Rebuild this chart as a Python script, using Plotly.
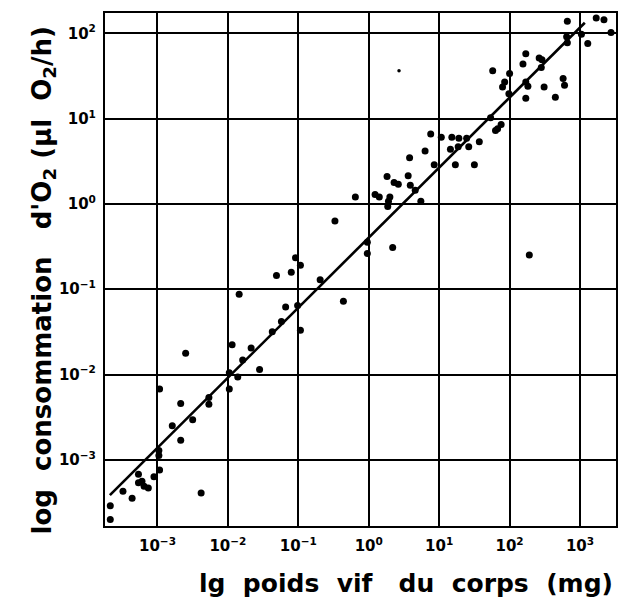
import numpy as np
import plotly.graph_objects as go

# Body mass (mg) and O2 consumption (µl O2/h), stored as decimal logarithms
log_poids = [
    2.82, 3.23, 3.34, 3.44, 2.81, 2.82, 3.02, 3.11,
    2.23, 2.19, 2.42, 2.46, 2.45, 1.76, 2.00, 1.93, 1.90, 2.23, 2.26, 2.49,
    2.76, 2.78, 2.65, 2.23, 1.99, 1.73, 1.88, 1.83, 1.80,
    0.88, 1.03, 1.18, 1.28, 1.39, 1.57, 1.42, 1.27, 1.16, 0.80, 0.58,
    0.93, 1.23, 1.50, 0.26, 0.36, 0.42, 0.56, 0.59, 0.66,
    -0.19, 0.09, 0.15, 0.30, 0.28, 0.27, 0.74, -0.48,
    -1.04, -0.97, -1.10, -1.31, -0.69, -1.84, -0.36, -1.18, -1.01,
    -1.24, -1.37, -0.97, -1.94, -1.67, -2.60, -1.79, -1.55, -1.98, -1.86,
    -2.97, -1.98, -2.27, -2.27, -2.67, -2.50, -2.79, -2.67,
    -2.98, -2.98, -2.97, -3.05, -3.27, -3.27, -3.22, -3.19, -3.13,
    -3.49, -3.36, -2.38, -3.67, -3.67,
    -0.02, -0.02, 0.34, 2.28,
]
log_conso = [
    2.14, 2.18, 2.16, 2.01, 1.96, 1.89, 1.99, 1.88,
    1.76, 1.64, 1.71, 1.69, 1.60, 1.56, 1.53, 1.43, 1.37, 1.43, 1.38, 1.37,
    1.47, 1.39, 1.25, 1.24, 1.29, 1.01, 0.93, 0.88, 0.86,
    0.82, 0.78, 0.78, 0.77, 0.77, 0.73, 0.67, 0.67, 0.64, 0.62, 0.54,
    0.46, 0.46, 0.46, 0.32, 0.25, 0.23, 0.33, 0.22, 0.16,
    0.08, 0.11, 0.08, 0.08, 0.03, -0.03, 0.03, -0.20,
    -0.63, -0.72, -0.80, -0.84, -0.89, -1.06, -1.14, -1.21, -1.19,
    -1.38, -1.50, -1.48, -1.65, -1.69, -1.75, -1.83, -1.94, -1.98, -2.03,
    -2.17, -2.17, -2.27, -2.35, -2.34, -2.53, -2.60, -2.77,
    -2.89, -2.95, -3.12, -3.20, -3.17, -3.27, -3.25, -3.31, -3.33,
    -3.37, -3.45, -3.39, -3.54, -3.70,
    -0.45, -0.58, -0.51, -0.60,
]

# A single faint measurement drawn as a small dot
log_poids_small = [0.43]
log_conso_small = [1.56]

# Fitted allometric line, end points
ligne_poids = [2.11e-4, 1.17e3]
ligne_conso = [3.86e-4, 1.33e2]

# Decade ticks
x_tickvals = [1e-3, 1e-2, 1e-1, 1e0, 1e1, 1e2, 1e3]
x_ticktext = ["10<sup>−3</sup>", "10<sup>−2</sup>", "10<sup>−1</sup>",
              "10<sup>0</sup>", "10<sup>1</sup>", "10<sup>2</sup>", "10<sup>3</sup>"]
y_tickvals = [1e-3, 1e-2, 1e-1, 1e0, 1e1, 1e2]
y_ticktext = ["10<sup>−3</sup>", "10<sup>−2</sup>", "10<sup>−1</sup>",
              "10<sup>0</sup>", "10<sup>1</sup>", "10<sup>2</sup>"]

poids = 10 ** np.array(log_poids)
conso = 10 ** np.array(log_conso)

fig = go.Figure()
fig.add_trace(go.Scatter(
    x=ligne_poids, y=ligne_conso, mode="lines",
    line=dict(color="black", width=2.6), hoverinfo="skip",
))
fig.add_trace(go.Scatter(
    x=poids, y=conso, mode="markers",
    marker=dict(color="black", size=7, line=dict(width=0)),
))
fig.add_trace(go.Scatter(
    x=10 ** np.array(log_poids_small), y=10 ** np.array(log_conso_small),
    mode="markers", marker=dict(color="black", size=3.5, line=dict(width=0)),
))

tick_font = dict(family="DejaVu Sans", size=15, color="black", weight="bold")
axis_common = dict(
    type="log", showgrid=True, gridcolor="black", gridwidth=1.6,
    showline=True, linecolor="black", linewidth=2.2, mirror=True,
    zeroline=False, ticks="", tickfont=tick_font,
)

title_font = dict(family="DejaVu Sans", size=25, color="black", weight="bold")
ytitle_font = dict(family="DejaVu Sans", size=26, color="black", weight="bold")

fig.update_layout(
    width=619, height=601,
    margin=dict(l=105, r=1, t=13, b=75),
    paper_bgcolor="white", plot_bgcolor="white",
    showlegend=False,
    xaxis=dict(axis_common, range=[-3.745, 3.511],
               tickvals=x_tickvals, ticktext=x_ticktext, ticklabelstandoff=5),
    yaxis=dict(axis_common, range=[-3.776, 2.238],
               tickvals=y_tickvals, ticktext=y_ticktext, ticklabelstandoff=4),
    annotations=[
        dict(text="lg  poids  vif   du  corps  (mg)", xref="paper", yref="paper",
             x=0.589, y=-0.113, showarrow=False, xanchor="center", yanchor="middle",
             font=title_font),
        dict(text="log  consommation   d'O<sub>2</sub> (µl  O<sub>2</sub>/h)",
             xref="paper", yref="paper", x=-0.12, y=0.478, textangle=-90,
             showarrow=False, xanchor="center", yanchor="middle",
             font=ytitle_font),
    ],
)

fig.write_html("out.html")
